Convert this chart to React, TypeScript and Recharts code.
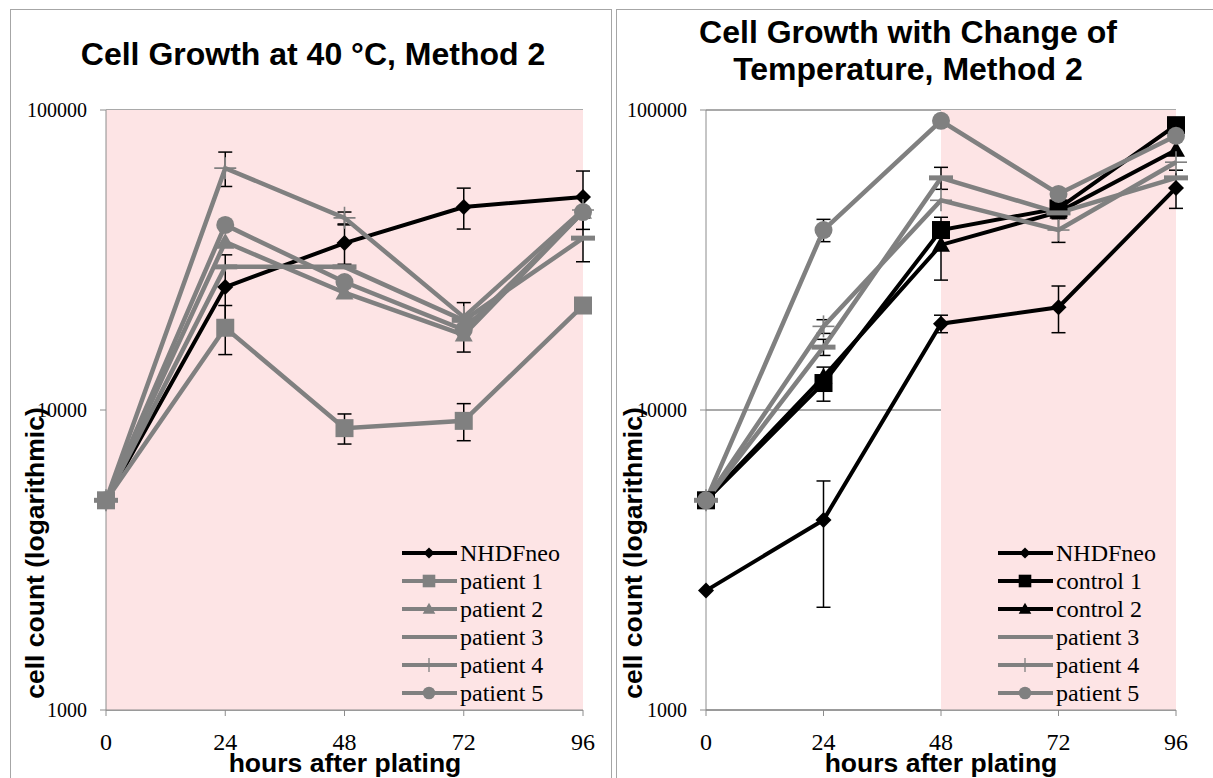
import React from "react";
import {
  LineChart,
  Line,
  XAxis,
  YAxis,
  CartesianGrid,
  ReferenceArea,
  ErrorBar,
} from "recharts";

// hours after plating
const hours = [0, 24, 48, 72, 96];
const yTicks = [1000, 10000, 100000];

// left chart: cell growth at 40 °C
const heatNhdf = [5000, 25700, 36000, 47500, 51300];
const heatP1 = [5000, 18800, 8700, 9200, 22300];
const heatP2 = [5000, 36300, 24600, 17800, 45700];
const heatP3 = [5000, 30000, 30000, 19900, 37400];
const heatP4 = [5000, 64000, 43700, 20400, 46400];
const heatP5 = [5000, 41400, 26700, 18500, 45700];

const heatNhdfErr = [null, 7200, 5400, 7400, 11300];
const heatP1Err = [null, 3500, 1000, 1300, null];
const heatP2Err = [null, null, null, 2200, null];
const heatP3Err = [null, null, null, null, 6200];
const heatP4Err = [null, 8400, 2000, 2400, null];
const heatP5Err = [null, null, null, null, null];

// right chart: change of temperature
const shiftNhdf = [2500, 4300, 19400, 22000, 55000];
const shiftC1 = [5000, 12300, 39800, 47000, 89000];
const shiftC2 = [5000, 12900, 35500, 45700, 73600];
const shiftP3 = [5000, 16200, 59400, 45400, 59400];
const shiftP4 = [5000, 19000, 50000, 39800, 67000];
const shiftP5 = [5000, 39800, 92000, 52500, 82000];

const shiftNhdfErr = [null, [2100, 1500], 1300, 3900, 8000];
const shiftC1Err = [null, 1600, null, null, null];
const shiftC2Err = [null, null, 8400, null, null];
const shiftP3Err = [null, 1000, 5000, null, null];
const shiftP4Err = [null, 1000, null, 3600, null];
const shiftP5Err = [null, 3400, null, null, null];

const GRAY = "#808080";
const BLACK = "#000000";
const PINK = "#fde4e5";
const AXIS = "#8c8c8c";
const SERIF = "Liberation Serif, Times New Roman, serif";
const SANS = "Liberation Sans, Arial, sans-serif";

type Shape = "diamond" | "square" | "triangle" | "dash" | "plus" | "circle";
type Series = {
  key: string;
  name: string;
  values: number[];
  err: any[];
  color: string;
  shape: Shape;
};

const heatSeries: Series[] = [
  { key: "nhdf", name: "NHDFneo", values: heatNhdf, err: heatNhdfErr, color: BLACK, shape: "diamond" },
  { key: "p1", name: "patient 1", values: heatP1, err: heatP1Err, color: GRAY, shape: "square" },
  { key: "p2", name: "patient 2", values: heatP2, err: heatP2Err, color: GRAY, shape: "triangle" },
  { key: "p3", name: "patient 3", values: heatP3, err: heatP3Err, color: GRAY, shape: "dash" },
  { key: "p4", name: "patient 4", values: heatP4, err: heatP4Err, color: GRAY, shape: "plus" },
  { key: "p5", name: "patient 5", values: heatP5, err: heatP5Err, color: GRAY, shape: "circle" },
];

const shiftSeries: Series[] = [
  { key: "nhdf", name: "NHDFneo", values: shiftNhdf, err: shiftNhdfErr, color: BLACK, shape: "diamond" },
  { key: "c1", name: "control 1", values: shiftC1, err: shiftC1Err, color: BLACK, shape: "square" },
  { key: "c2", name: "control 2", values: shiftC2, err: shiftC2Err, color: BLACK, shape: "triangle" },
  { key: "p3", name: "patient 3", values: shiftP3, err: shiftP3Err, color: GRAY, shape: "dash" },
  { key: "p4", name: "patient 4", values: shiftP4, err: shiftP4Err, color: GRAY, shape: "plus" },
  { key: "p5", name: "patient 5", values: shiftP5, err: shiftP5Err, color: GRAY, shape: "circle" },
];

function buildRows(series: Series[]) {
  return hours.map((h, i) => {
    const row: any = { h };
    series.forEach((s) => {
      row[s.key] = s.values[i];
      if (s.err[i] != null) row[s.key + "Err"] = s.err[i];
    });
    return row;
  });
}

function Marker({ cx, cy, shape, color, k = 1 }: { cx: number; cy: number; shape: Shape; color: string; k?: number }) {
  if (cx == null || cy == null) return null;
  switch (shape) {
    case "diamond": {
      const h = 8 * k;
      return <polygon points={`${cx},${cy - h} ${cx + h},${cy} ${cx},${cy + h} ${cx - h},${cy}`} fill={color} />;
    }
    case "square": {
      const h = 9 * k;
      return <rect x={cx - h} y={cy - h} width={2 * h} height={2 * h} fill={color} />;
    }
    case "triangle": {
      const h = 9 * k;
      return <polygon points={`${cx},${cy - h} ${cx + h},${cy + h * 0.75} ${cx - h},${cy + h * 0.75}`} fill={color} />;
    }
    case "dash":
      return <rect x={cx - 12 * k} y={cy - 2.5} width={24 * k} height={5} fill={color} />;
    case "plus":
      return (
        <g stroke={color} strokeWidth={1.6}>
          <line x1={cx - 11 * k} y1={cy} x2={cx + 11 * k} y2={cy} />
          <line x1={cx} y1={cy - 11 * k} x2={cx} y2={cy + 11 * k} />
        </g>
      );
    case "circle":
      return <circle cx={cx} cy={cy} r={9 * k} fill={color} />;
  }
  return null;
}

function Legend({ series, left, top }: { series: Series[]; left: number; top: number }) {
  return (
    <svg style={{ position: "absolute", left, top }} width={180} height={170}>
      {series.map((s, i) => {
        const y = 14 + i * 28;
        return (
          <g key={s.key}>
            <line x1={2} y1={y} x2={57} y2={y} stroke={s.color} strokeWidth={4} />
            {s.shape === "plus" ? (
              <line x1={29} y1={y - 7} x2={29} y2={y + 7} stroke={s.color} strokeWidth={1.3} />
            ) : s.shape === "dash" ? null : (
              <Marker cx={29} cy={y} shape={s.shape} color={s.color} k={0.7} />
            )}
            <text x={60} y={y + 8} fontFamily={SERIF} fontSize={24} fill="#000">
              {s.name}
            </text>
          </g>
        );
      })}
    </svg>
  );
}

const XTick = (p: any) => (
  <text x={p.x} y={p.y} dy="0.71em" textAnchor="middle" fontFamily={SERIF} fontSize={24} fill="#000">
    {p.payload.value}
  </text>
);

const YTick = (p: any) => (
  <text x={p.x} y={p.y} dy="0.35em" textAnchor="end" fontFamily={SERIF} fontSize={20} fill="#000">
    {p.payload.value}
  </text>
);

function GrowthChart({
  series,
  shadeFrom,
  left,
  width,
  marginRight,
}: {
  series: Series[];
  shadeFrom: number;
  left: number;
  width: number;
  marginRight: number;
}) {
  const rows = buildRows(series);
  return (
    <div style={{ position: "absolute", left, top: 0 }}>
      <LineChart width={width} height={778} data={rows} margin={{ top: 110, right: marginRight, bottom: 38, left: 10 }}>
        <ReferenceArea x1={shadeFrom} x2={96} y1={1000} y2={100000} fill={PINK} fillOpacity={1} stroke="none" />
        <CartesianGrid vertical={false} stroke={AXIS} strokeWidth={1.3} />
        <XAxis
          dataKey="h"
          type="number"
          domain={[0, 96]}
          ticks={hours}
          stroke={AXIS}
          tickSize={6}
          tickMargin={17}
          height={30}
          tick={XTick}
        />
        <YAxis
          type="number"
          scale="log"
          domain={[1000, 100000]}
          ticks={yTicks}
          allowDataOverflow
          stroke={AXIS}
          width={96}
          tickSize={6}
          tickMargin={13}
          tick={YTick}
        />
        {series.map((s) => (
          <Line
            key={s.key}
            dataKey={s.key}
            name={s.name}
            stroke={s.color}
            strokeWidth={s.color === BLACK ? 4 : 4.5}
            isAnimationActive={false}
            dot={(p: any) => <Marker key={`${s.key}-${p.index}`} cx={p.cx} cy={p.cy} shape={s.shape} color={s.color} />}
            activeDot={false}
          >
            <ErrorBar dataKey={s.key + "Err"} stroke="#000" strokeWidth={1.5} width={7} isAnimationActive={false} />
          </Line>
        ))}
      </LineChart>
    </div>
  );
}

const titleStyle: React.CSSProperties = {
  position: "absolute",
  fontFamily: SANS,
  fontWeight: "bold",
  fontSize: 32,
  lineHeight: "37px",
  textAlign: "center",
  whiteSpace: "nowrap",
  transform: "translateX(-50%)",
};

const axisTitleStyle: React.CSSProperties = {
  position: "absolute",
  fontFamily: SANS,
  fontWeight: "bold",
  fontSize: 26.5,
  whiteSpace: "nowrap",
  lineHeight: "30px",
};

export default function App() {
  return (
    <div
      style={{
        position: "absolute",
        left: 0,
        top: 0,
        width: 1213,
        height: 778,
        overflow: "hidden",
        background: "#fff",
      }}
    >
      <div style={{ position: "absolute", left: 10, top: 9, width: 600, height: 820, border: "1.5px solid #a6a6a6" }} />
      <div style={{ position: "absolute", left: 616, top: 9, width: 700, height: 820, border: "1.5px solid #a6a6a6" }} />

      <GrowthChart series={heatSeries} shadeFrom={0} left={0} width={611} marginRight={28} />
      <GrowthChart series={shiftSeries} shadeFrom={48} left={600} width={613} marginRight={37} />

      <div style={{ ...titleStyle, left: 313, top: 36 }}>Cell Growth at 40 °C, Method 2</div>
      <div style={{ ...titleStyle, left: 908, top: 14 }}>
        Cell Growth with Change of
        <br />
        Temperature, Method 2
      </div>

      <div style={{ ...axisTitleStyle, left: 35, top: 553, transform: "translate(-50%, -50%) rotate(-90deg)" }}>
        cell count (logarithmic)
      </div>
      <div style={{ ...axisTitleStyle, left: 633, top: 553, transform: "translate(-50%, -50%) rotate(-90deg)" }}>
        cell count (logarithmic)
      </div>
      <div style={{ ...axisTitleStyle, left: 345, top: 748, transform: "translateX(-50%)" }}>hours after plating</div>
      <div style={{ ...axisTitleStyle, left: 941, top: 748, transform: "translateX(-50%)" }}>hours after plating</div>

      <Legend series={heatSeries} left={400} top={539} />
      <Legend series={shiftSeries} left={996} top={539} />
    </div>
  );
}
